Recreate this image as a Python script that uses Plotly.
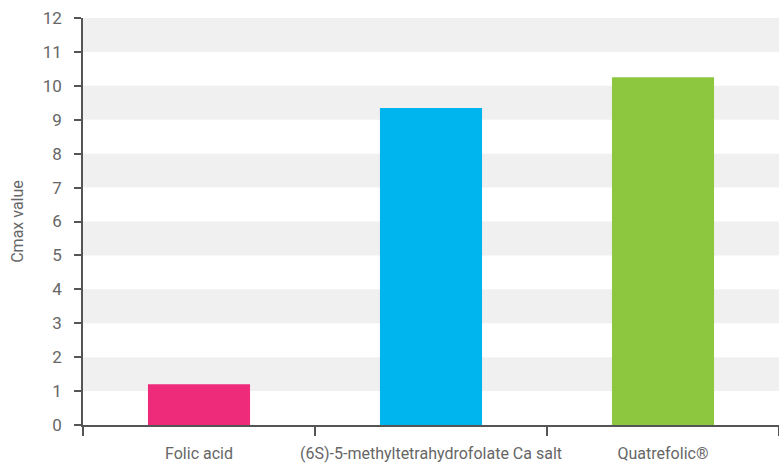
import plotly.graph_objects as go

categories = ["Folic acid", "(6S)-5-methyltetrahydrofolate Ca salt", "Quatrefolic®"]
cmax_values = [1.2, 9.35, 10.25]
bar_colors = ["#EE2A7B", "#00B5EE", "#8DC63F"]
y_ticks = list(range(0, 13))
y_label = "Cmax value"

FONT = "Roboto, Arial, sans-serif"

fig = go.Figure()
fig.add_trace(go.Bar(
    x=categories, y=cmax_values,
    marker=dict(color=bar_colors, line=dict(width=0)),
    width=0.44, showlegend=False, hoverinfo="x+y",
))

# alternating background bands
for lo in y_ticks[1:-1:2]:
    fig.add_shape(type="rect", xref="paper", yref="y", x0=0, x1=1, y0=lo, y1=lo + 1,
                  fillcolor="#F0F0F0", line=dict(width=0), layer="below")

fig.update_layout(
    width=779, height=466,
    margin=dict(l=83, r=0, t=18, b=41),
    paper_bgcolor="white", plot_bgcolor="white",
    font=dict(family=FONT, size=16, color="#666666"),
    bargap=0.56,
)
fig.update_xaxes(
    type="category", showgrid=False, showline=True, linecolor="#555555", linewidth=1.5,
    ticks="outside", tickson="boundaries", ticklen=9, tickcolor="#555555", tickwidth=1.5,
    tickangle=0, automargin=False,
    tickfont=dict(family=FONT, size=16, color="#666666"), ticklabelstandoff=13,
)
fig.update_yaxes(
    range=[0, 12], tickvals=y_ticks, showgrid=False, zeroline=False,
    showline=True, linecolor="#555555", linewidth=1.5, automargin=False,
    ticks="outside", ticklen=7, tickcolor="#555555", tickwidth=1.5,
    tickfont=dict(family=FONT, size=17, color="#666666"), ticklabelstandoff=9,
    title=dict(text=y_label, font=dict(family=FONT, size=16, color="#666666"), standoff=15),
)

fig.write_html(
    "out.html",
    config={"displayModeBar": False},
    post_script="document.body.style.margin='0';document.body.style.overflow='hidden';",
)
